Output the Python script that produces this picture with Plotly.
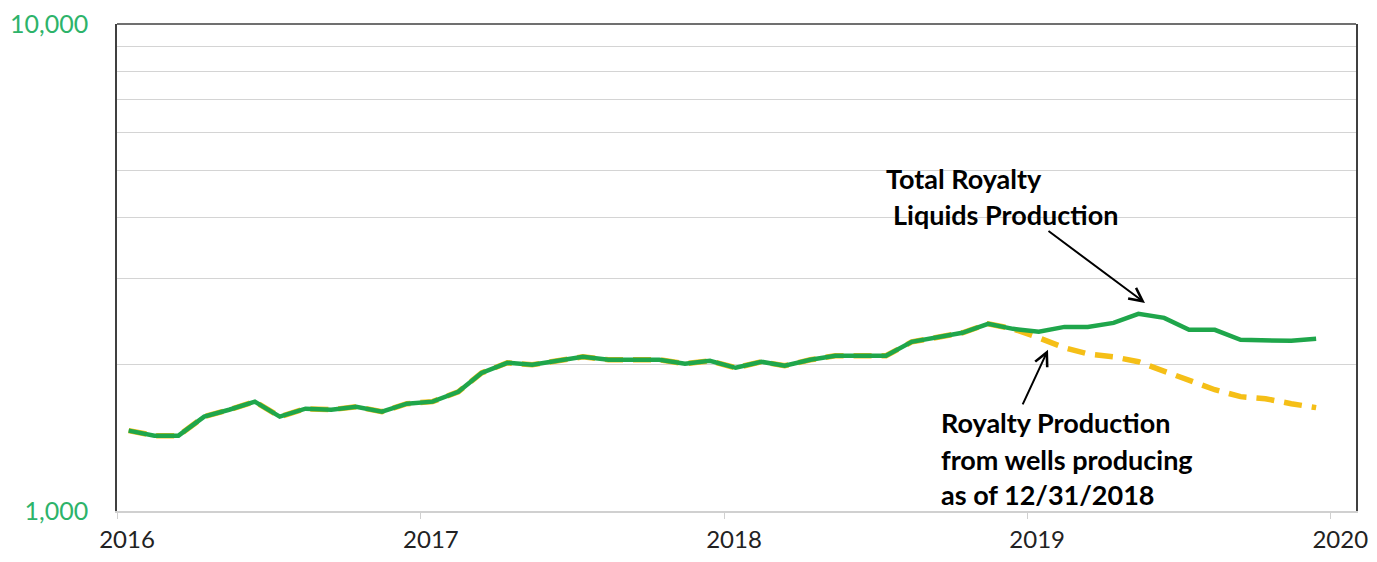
"""Royalty liquids production: total vs. wells producing as of 12/31/2018."""

import pandas as pd
import plotly.graph_objects as go

# Monthly dates (mid-month), Jan 2016 - Dec 2019
months = pd.date_range("2016-01-01", "2019-12-01", freq="MS") + pd.Timedelta(days=14)

# Total royalty liquids production
total_production = [
    1462, 1428, 1428, 1562, 1614, 1677, 1562, 1622, 1614, 1637, 1599, 1661,
    1677, 1757, 1921, 2015, 1996, 2034, 2073, 2044, 2044, 2044, 2006, 2034,
    1968, 2025, 1987, 2044, 2083, 2083, 2083, 2225, 2279, 2322, 2423, 2366,
    2333, 2388, 2388, 2434, 2540, 2492, 2355, 2355, 2246, 2246, 2236, 2257,
]

# Production from wells producing as of 12/31/2018
existing_wells = total_production[:36] + [
    2268, 2163, 2102, 2073, 2025, 1940, 1851, 1774, 1717, 1700, 1661, 1630,
]

y_tickvals = [1000, 2000, 3000, 4000, 5000, 6000, 7000, 8000, 9000, 10000]
y_ticktext = ["1,000", "", "", "", "", "", "", "", "", "10,000"]
x_tickvals = ["2016-01-01", "2017-01-01", "2018-01-01", "2019-01-01", "2020-01-01"]
x_ticktext = ["2016", "2017", "2018", "2019", "2020"]

GREEN = "#1fa64b"
YELLOW = "#f5bf17"
FONT = "Lato, Carlito, Calibri, sans-serif"

# The page body has an 8px margin, so the figure starts at (8, 8)
OFFSET = 8
FIG_W, FIG_H = 1377 - OFFSET, 562 - OFFSET
# Plot area edges in screen pixels
PLOT_L, PLOT_R, PLOT_T, PLOT_B = 117, 1356, 23.5, 511.5

fig = go.Figure()

# Yellow dashed drawn first so the green line sits on top where they overlap
fig.add_trace(
    go.Scatter(
        x=months,
        y=existing_wells,
        mode="lines",
        line=dict(color=YELLOW, width=5.5, dash="18px,10px"),
        name="Existing wells",
    )
)
fig.add_trace(
    go.Scatter(
        x=months,
        y=total_production,
        mode="lines",
        line=dict(color=GREEN, width=4.5),
        name="Total",
    )
)


def px_x(px):
    return (px - PLOT_L) / (PLOT_R - PLOT_L)


def px_y(py):
    return (PLOT_B - py) / (PLOT_B - PLOT_T)


text_lines = [
    ("Total Royalty", 884, 178),
    ("Liquids Production", 891, 214),
    ("Royalty Production", 939, 423),
    ("from wells producing", 939, 460),
    ("as of 12/31/2018", 939, 495),
]
annotations = []
for text, lx, ly in text_lines:
    annotations.append(
        dict(
            text=f"<b>{text}</b>",
            xref="paper",
            yref="paper",
            x=px_x(lx),
            y=px_y(ly),
            xanchor="left",
            yanchor="middle",
            showarrow=False,
            font=dict(family=FONT, size=27, color="black"),
        )
    )

# Arrows: (head x, head y, tail x, tail y) in pixels
arrows = [(1145, 303, 1047, 230), (1048, 350, 1022, 406)]
for hx, hy, tx, ty in arrows:
    annotations.append(
        dict(
            text="",
            xref="paper",
            yref="paper",
            x=px_x(hx),
            y=px_y(hy),
            ax=tx - hx,
            ay=ty - hy,
            showarrow=True,
            arrowhead=5,
            arrowsize=1.3,
            arrowwidth=2,
            arrowcolor="black",
        )
    )

fig.update_layout(
    width=FIG_W,
    height=FIG_H,
    margin=dict(
        l=PLOT_L - OFFSET,
        r=1377 - PLOT_R,
        t=PLOT_T - OFFSET,
        b=562 - PLOT_B,
        autoexpand=False,
    ),
    paper_bgcolor="white",
    plot_bgcolor="white",
    showlegend=False,
    annotations=annotations,
    shapes=[
        dict(
            type="line",
            xref="paper",
            yref="paper",
            x0=0,
            x1=1,
            y0=1,
            y1=1,
            line=dict(color="#404040", width=1.5),
        )
    ],
)

fig.update_xaxes(
    type="date",
    range=["2016-01-01", "2020-02-01"],
    tickvals=x_tickvals,
    ticktext=x_ticktext,
    showgrid=False,
    showline=True,
    linecolor="#d0d0d0",
    linewidth=1.5,
    ticks="outside",
    ticklen=6,
    tickcolor="#d0d0d0",
    ticklabelshift=10,
    ticklabeloverflow="allow",
    automargin=False,
    tickfont=dict(family=FONT, size=24, color="#222222"),
)

fig.update_yaxes(
    type="log",
    range=[2.99995, 4.00005],
    tickvals=y_tickvals,
    ticktext=y_ticktext,
    showgrid=True,
    gridcolor="#d4d4d4",
    gridwidth=1.2,
    showline=True,
    linecolor="#404040",
    linewidth=1.5,
    mirror=True,
    ticks="",
    ticklabelstandoff=22,
    ticklabeloverflow="allow",
    automargin=False,
    tickfont=dict(family=FONT, size=25, color="#2db36a"),
    zeroline=False,
)

fig.write_html("out.html")
